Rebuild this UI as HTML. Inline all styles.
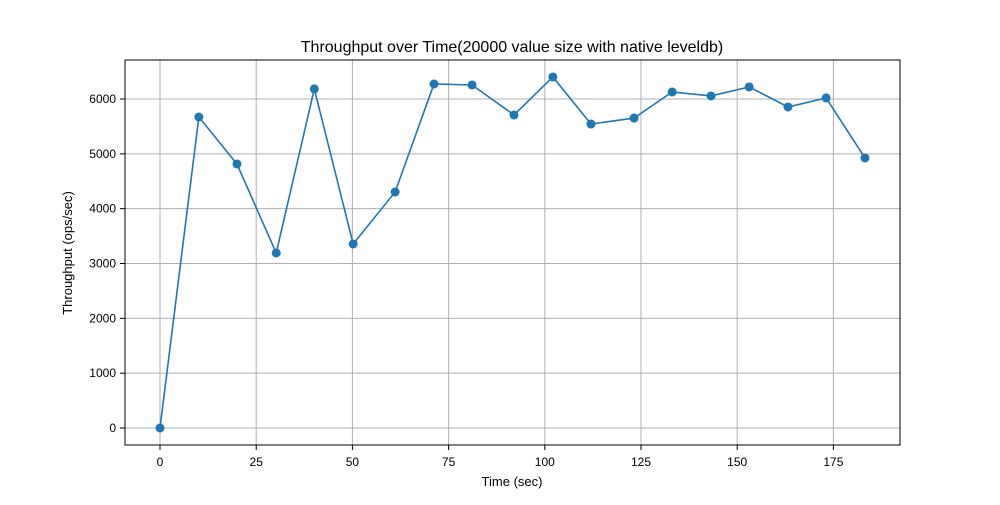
<!DOCTYPE html>
<html><head><meta charset="utf-8"><style>
body{margin:0;background:#fff;}
svg{font-family:"Liberation Sans","DejaVu Sans",sans-serif;}
</style></head><body>
<svg id="chart" width="1000" height="500" xmlns="http://www.w3.org/2000/svg">
<rect width="1000" height="500" fill="#fff"/>
<text x="512" y="52" text-anchor="middle" font-size="16">Throughput over Time(20000 value size with native leveldb)</text>
<g id="grid"></g><g id="ticks"></g><g id="series"></g>
<rect x="125" y="60" width="775" height="385" fill="none" stroke="#000" stroke-width="1"/>
<text x="512" y="486" text-anchor="middle" font-size="13">Time (sec)</text>
<text transform="translate(72,253) rotate(-90)" text-anchor="middle" font-size="13">Throughput (ops/sec)</text>
</svg>
<script>
const times=[0,10.1,20,30.2,40.1,50.2,61.1,71.2,81.1,92,102.1,112,123.2,133.1,143.2,153.1,163.2,173.1,183.2];
const throughput=[0,5672,4815,3192,6184,3356,4304,6274,6256,5709,6402,5544,5653,6129,6056,6220,5855,6020,4925];
const xTicks=[0,25,50,75,100,125,150,175];
const yTicks=[0,1000,2000,3000,4000,5000,6000];
const NS="http://www.w3.org/2000/svg";
const sx=v=>160+v*3.848;
const sy=v=>428-v*0.05483;
function mk(tag,attrs,parent){const e=document.createElementNS(NS,tag);for(const k in attrs)e.setAttribute(k,attrs[k]);parent.appendChild(e);return e;}
const grid=document.getElementById('grid'),ticks=document.getElementById('ticks'),series=document.getElementById('series');
xTicks.forEach(t=>{const x=sx(t);
 const g=mk('line',{x1:x,x2:x,y1:60,y2:445,stroke:'#b0b0b0','stroke-width':1},grid);
 
 
 mk('line',{x1:x,x2:x,y1:445,y2:450,stroke:'#000'},ticks);
 const l=mk('text',{x:x,y:466,'text-anchor':'middle','font-size':12},ticks);l.textContent=t;
 
 
});
yTicks.forEach(t=>{const y=sy(t);
 const g=mk('line',{x1:125,x2:900,y1:y,y2:y,stroke:'#b0b0b0','stroke-width':1},grid);
 
 
 mk('line',{x1:120,x2:125,y1:y,y2:y,stroke:'#000'},ticks);
 const l=mk('text',{x:116,y:y+4,'text-anchor':'end','font-size':12},ticks);l.textContent=t;
 
 
});
const pl=mk('polyline',{points:times.map((t,i)=>sx(t)+','+sy(throughput[i])).join(' '),fill:'none',stroke:'#1f77b4','stroke-width':1.6},series);


times.forEach((t,i)=>{const c=mk('circle',{cx:sx(t),cy:sy(throughput[i]),r:4.5,fill:'#1f77b4'},series);
 
 
});
</script>
</body></html>
